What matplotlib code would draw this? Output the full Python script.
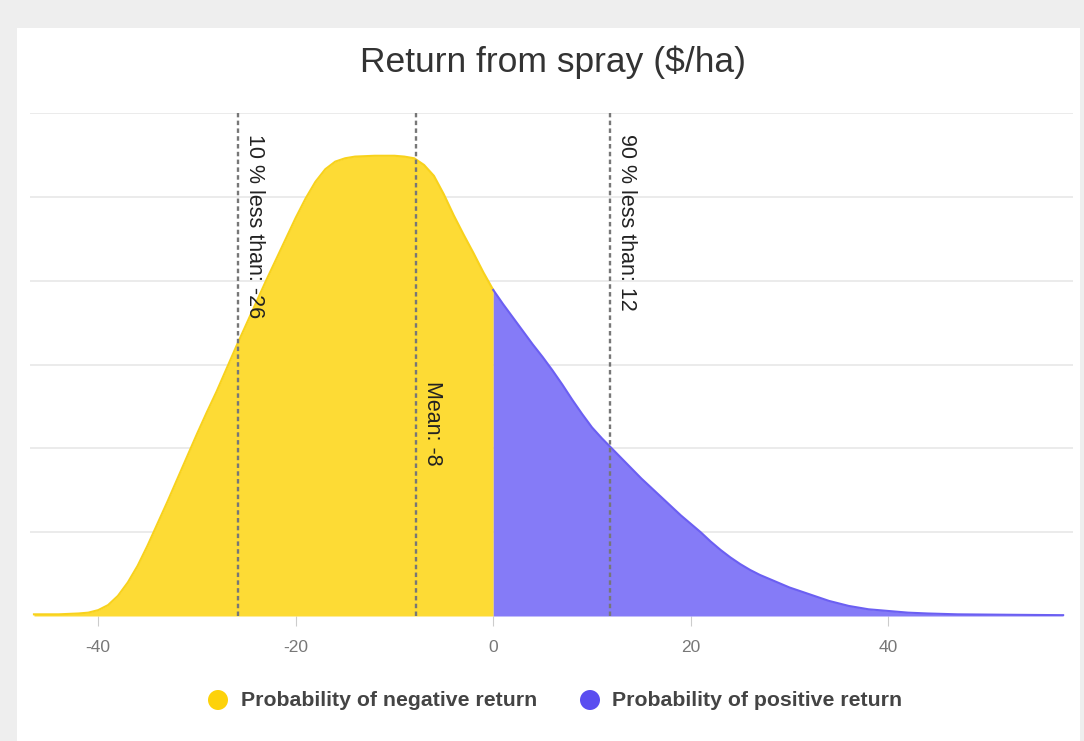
import numpy as np
import matplotlib
matplotlib.use("Agg")
import matplotlib.pyplot as plt
from matplotlib.patches import Rectangle, Ellipse

plt.rcParams['font.family'] = ['Liberation Sans', 'DejaVu Sans']

# ---- data ----
title = "Return from spray ($/ha)"
returns = [-46.5, -44, -42, -41, -40, -39, -38, -37, -36, -35, -34, -33, -32, -31, -30,
           -29, -28, -27, -26, -25, -24, -23, -22, -21, -20, -19, -18, -17, -16, -15,
           -14, -12, -10, -9, -8, -7, -6, -5, -4, -3, -2, -1, 0,
           1, 2, 3, 4, 5, 6, 7, 8, 9, 10, 11, 12, 13, 14, 15, 16, 17, 18, 19, 20,
           21, 22, 23, 24, 25, 26, 27, 28, 29, 30, 31, 32, 33, 34, 35, 36, 37, 38,
           39, 40, 42, 44, 47, 52, 57.7]
density = [0.02, 0.02, 0.03, 0.04, 0.07, 0.13, 0.24, 0.4, 0.6, 0.84, 1.1, 1.36, 1.63, 1.9, 2.17,
           2.43, 2.68, 2.95, 3.22, 3.48, 3.74, 4.0, 4.25, 4.5, 4.75, 4.98, 5.18, 5.33, 5.42, 5.46,
           5.48, 5.49, 5.49, 5.48, 5.46, 5.38, 5.25, 5.03, 4.78, 4.55, 4.33, 4.1, 3.89,
           3.72, 3.56, 3.4, 3.24, 3.09, 2.93, 2.76, 2.58, 2.41, 2.25, 2.12, 2.0, 1.88, 1.76, 1.64,
           1.53, 1.42, 1.31, 1.2, 1.1,
           1.0, 0.89, 0.79, 0.7, 0.62, 0.55, 0.49, 0.44, 0.39, 0.34, 0.3, 0.26, 0.22, 0.18, 0.15,
           0.12, 0.1, 0.08, 0.07, 0.06, 0.04, 0.03, 0.02, 0.015, 0.01]
marker_values = [-25.8, -7.8, 11.85]
marker_labels = ["10 % less than: -26", "Mean: -8", "90 % less than: 12"]
marker_label_heights = [5.75, 2.8, 5.75]
x_ticks = [-40, -20, 0, 20, 40]
series_names = ["Probability of negative return", "Probability of positive return"]

x = np.array(returns)
y = np.array(density)

W, H = 1084, 741
fig = plt.figure(figsize=(W / 100, H / 100), dpi=100)
fig.patch.set_facecolor('#eeeeee')
# white card
fig.patches.append(Rectangle((17 / W, 0), (1080 - 17) / W, 1 - 28 / H,
                             transform=fig.transFigure, facecolor='white',
                             edgecolor='none', zorder=-5))

left_px, right_px = 30, 1073
top_px, bot_px = 113, 616
ax = fig.add_axes([left_px / W, 1 - bot_px / H, (right_px - left_px) / W, (bot_px - top_px) / H])
ax.set_zorder(2)
ax.set_facecolor('none')
ax.set_xlim(-46.9, 58.7)
ax.set_ylim(0, 6)

for g in range(1, 7):
    ax.axhline(g, color='#e8e8e8', lw=1.2, zorder=1)

neg = x <= 0
pos = x >= 0
ax.fill_between(x[neg], 0, y[neg], color='#FDDB35', lw=0, zorder=2)
ax.plot(x[neg], y[neg], color='#F8D21C', lw=1.5, zorder=3, solid_joinstyle='round')
ax.fill_between(x[pos], 0, y[pos], color='#857BF7', lw=0, zorder=2)
ax.plot(x[pos], y[pos], color='#6B5FF2', lw=1.5, zorder=3, solid_joinstyle='round')
ax.plot([x[0], x[-1]], [0, 0], color='#e0e0e0', lw=1, zorder=1.5)

for v in marker_values:
    ax.axvline(v, ymin=0, ymax=1, color='#777777', lw=1.7, ls=(0, (1.9, 1.4)), zorder=4)

for v, lab, h in zip(marker_values, marker_labels, marker_label_heights):
    ax.text(v + 0.55, h, lab, rotation=-90, ha='left', va='top',
            fontsize=15.5, color='#222222', zorder=5)

ax.set_yticks([])
ax.set_xticks(x_ticks)
ax.set_xticklabels([str(t) for t in x_ticks])
ax.tick_params(axis='x', length=7, color='#cccccc', labelsize=12.5, labelcolor='#777777', pad=10)
for s in ax.spines.values():
    s.set_visible(False)

fig.text(553 / W, 1 - 62 / H, title, ha='center', va='center', fontsize=25.5, color='#333333')

# legend
leg_y = 1 - 700 / H
fig.patches.append(Ellipse((218 / W, leg_y), 20 / W, 20 / H,
                   transform=fig.transFigure, facecolor='#FDD20A', edgecolor='none', zorder=3))
fig.text(241 / W, leg_y, series_names[0], ha='left', va='center', fontsize=15.3,
         fontweight='bold', color='#444444')
fig.patches.append(Ellipse((590 / W, leg_y), 20 / W, 20 / H,
                   transform=fig.transFigure, facecolor='#5B4EF0', edgecolor='none', zorder=3))
fig.text(612 / W, leg_y, series_names[1], ha='left', va='center', fontsize=15.3,
         fontweight='bold', color='#444444')

fig.savefig('out.png', dpi=100, facecolor=fig.get_facecolor())
